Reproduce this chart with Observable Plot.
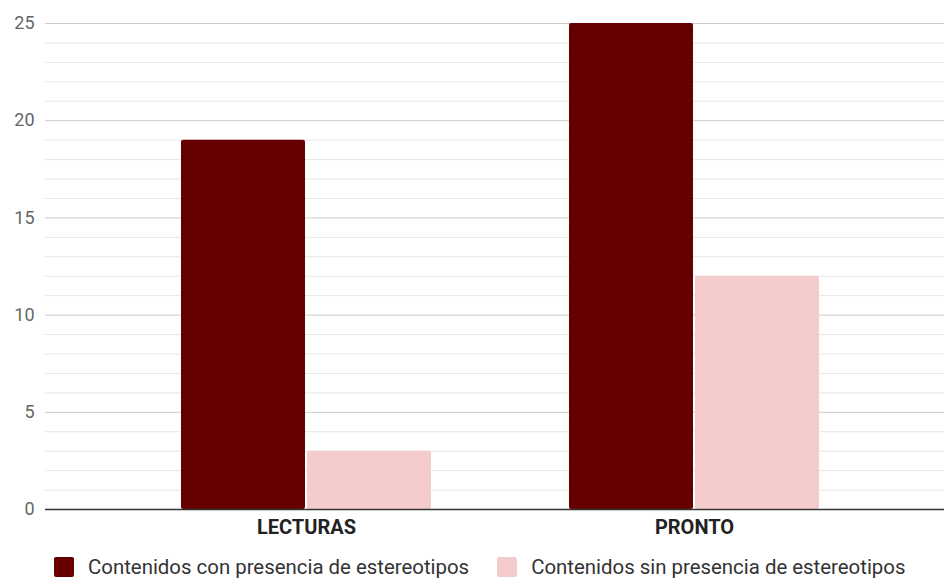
<!DOCTYPE html>
<html>
<head>
<meta charset="utf-8">
<script src="https://cdn.jsdelivr.net/npm/d3@7"></script>
<script src="https://cdn.jsdelivr.net/npm/@observablehq/plot@0.6"></script>
<style>
  html, body { margin: 0; padding: 0; background: #fff; }
  #chart { width: 944px; font-family: Roboto, "Noto Sans", sans-serif; }
  .legend { display: flex; align-items: center; height: 36px; padding-top: 4px; padding-left: 54px; font-size: 20.4px; line-height: 24px; color: #333; }
  .legend .item { display: flex; align-items: center; margin-right: 28px; }
  .legend .sw { width: 20px; height: 20px; border-radius: 2px; margin-right: 14px; }
</style>
</head>
<body>
<div id="chart"></div>
<script>
// Media categories and the two content series
const categories = ["LECTURAS", "PRONTO"];
const seriesNames = [
  "Contenidos con presencia de estereotipos",
  "Contenidos sin presencia de estereotipos"
];
const conValues = [19, 25];
const sinValues = [3, 12];
const seriesColors = ["#660000", "#f4cccc"];
const yTicks = [0, 5, 10, 15, 20, 25];
const yMinor = d3.range(0, 26).filter(v => v % 5 !== 0);

const conRows = categories.map((c, i) => ({category: c, value: conValues[i]}));
const sinRows = categories.map((c, i) => ({category: c, value: sinValues[i]}));

const chart = Plot.plot({
  width: 944,
  height: 545,
  marginLeft: 45,
  marginRight: 0,
  marginTop: 23,
  marginBottom: 36,
  style: {fontFamily: "Roboto, sans-serif", background: "#fff", overflow: "visible"},
  x: {domain: categories, paddingInner: 0.3557, paddingOuter: 0.3363, align: 0.52, axis: null},
  y: {domain: [0, 25], axis: null},
  marks: [
    Plot.ruleY(yMinor, {stroke: "#e6e6e6", strokeWidth: 1}),
    Plot.ruleY(yTicks.filter(v => v > 0), {stroke: "#cccccc", strokeWidth: 1}),
    Plot.barY(conRows, {x: "category", y: "value", fill: seriesColors[0], insetRight: 126, rx: 2}),
    Plot.barY(sinRows, {x: "category", y: "value", fill: seriesColors[1], insetLeft: 126, rx: 2}),
    Plot.ruleY([0], {stroke: "#333", strokeWidth: 1.5}),
    Plot.text(yTicks, {y: d => d, frameAnchor: "left", dx: -11, textAnchor: "end", fontSize: 18, fill: "#666"}),
    Plot.text(categories, {x: d => d, frameAnchor: "bottom", dy: 24, fontSize: 20, fontWeight: "bold", fill: "#222"})
  ]
});

const root = document.getElementById("chart");
root.appendChild(chart);

const legend = document.createElement("div");
legend.className = "legend";
seriesNames.forEach((name, i) => {
  const item = document.createElement("div");
  item.className = "item";
  const sw = document.createElement("span");
  sw.className = "sw";
  sw.style.background = seriesColors[i];
  const label = document.createElement("span");
  label.textContent = name;
  item.appendChild(sw);
  item.appendChild(label);
  legend.appendChild(item);
});
root.appendChild(legend);
</script>
</body>
</html>
